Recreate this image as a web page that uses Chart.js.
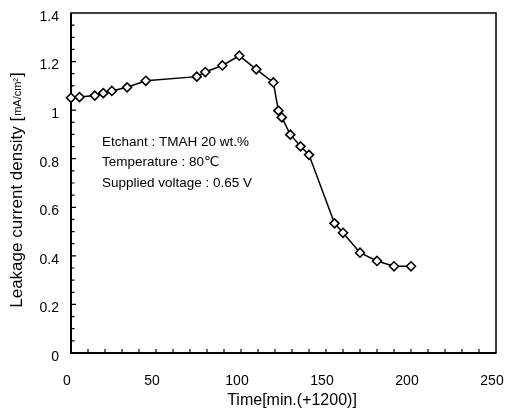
<!DOCTYPE html>
<html>
<head>
<meta charset="utf-8">
<script src="https://cdn.jsdelivr.net/npm/chart.js@4.4.1/dist/chart.umd.min.js"></script>
<style>
  html, body { margin: 0; padding: 0; background: #fff; }
  #wrap { width: 513px; height: 418px; }
</style>
</head>
<body>
<div id="wrap"><canvas id="leakChart"></canvas></div>
<script>
  // values
  const timeMin = [0, 5, 14, 19, 24, 33, 44, 74, 79, 89, 99, 109, 119, 122, 124, 129, 135, 140, 155, 160, 170, 180, 190, 200];
  const leakage = [1.051, 1.054, 1.06, 1.07, 1.079, 1.094, 1.121, 1.138, 1.157, 1.184, 1.224, 1.168, 1.114, 0.998, 0.970, 0.899, 0.851, 0.816, 0.534, 0.495, 0.413, 0.379, 0.357, 0.357];
  const xTicks = [0, 50, 100, 150, 200, 250];
  const yTicks = [0, 0.2, 0.4, 0.6, 0.8, 1, 1.2, 1.4];
  const notes = ["Etchant : TMAH 20 wt.%", "Temperature : 80℃", "Supplied voltage : 0.65 V"];
  const yTitle = "Leakage current density ";
  const yUnit = "mA/cm²";
  const xTitle = "Time[min.(+1200)]";

  const FONT = "'Liberation Sans', Arial, 'DejaVu Sans', sans-serif";

  // box, inner ticks, notes and the axis titles
  const framePlugin = {
    id: "frame",
    beforeDatasetsDraw(chart) {
      const { ctx, chartArea: a, scales: { x, y } } = chart;
      ctx.save();
      ctx.strokeStyle = "#000";
      ctx.lineWidth = 1.5;
      ctx.strokeRect(a.left, a.top, a.right - a.left, a.bottom - a.top);
      ctx.lineWidth = 2;
      ctx.beginPath();
      ctx.moveTo(a.left, a.top); ctx.lineTo(a.left, a.bottom); ctx.lineTo(a.right, a.bottom);
      ctx.stroke();
      ctx.lineWidth = 1.2;
      ctx.beginPath();
      for (let v = 10; v < 250; v += 10) {
        const px = x.getPixelForValue(v);
        ctx.moveTo(px, a.bottom); ctx.lineTo(px, a.bottom - 4);
      }
      for (let i = 1; i < 28; i++) {
        const py = y.getPixelForValue(i * 0.05);
        ctx.moveTo(a.left, py); ctx.lineTo(a.left + (i % 4 === 0 ? 5 : 3.5), py);
      }
      ctx.stroke();
      ctx.restore();
    },
    afterDraw(chart) {
      const { ctx, chartArea: a } = chart;
      ctx.save();
      ctx.fillStyle = "#000";
      ctx.font = "13.5px " + FONT;
      ctx.textBaseline = "middle";
      notes.forEach((t, i) => ctx.fillText(t, a.left + 31, 142 + i * 20.5));

      ctx.font = "16px " + FONT;
      ctx.textAlign = "center";
      ctx.fillText(xTitle, 292, 401);
      ctx.textAlign = "left";

      // y title with small unit in brackets
      const big = "17px " + FONT, small = "11px " + FONT;
      ctx.font = big; const w1 = ctx.measureText(yTitle + "[").width; const wb = ctx.measureText("]").width;
      ctx.font = small; const w2 = ctx.measureText(yUnit).width;
      const total = w1 + w2 + wb + 2;
      ctx.translate(17, 190);
      ctx.rotate(-Math.PI / 2);
      let cx = -total / 2;
      ctx.font = big; ctx.fillText(yTitle + "[", cx, 0); cx += w1;
      ctx.font = small; ctx.fillText(yUnit, cx + 1, 1); cx += w2 + 2;
      ctx.font = big; ctx.fillText("]", cx, 0);
      ctx.restore();
    }
  };

  new Chart(document.getElementById("leakChart"), {
    type: "line",
    data: {
      datasets: [{
        data: timeMin.map((t, i) => ({ x: t, y: leakage[i] })),
        borderColor: "#000", borderWidth: 1.5,
        pointStyle: "rectRot", pointRadius: 4.5, pointBorderWidth: 1.6,
        pointBackgroundColor: "#fff", pointBorderColor: "#000",
        tension: 0, clip: false,
      }],
    },
    options: {
      responsive: true, maintainAspectRatio: false, animation: false,
      layout: { padding: { top: 13, right: 17, left: 0, bottom: 0 } },
      plugins: { legend: { display: false }, tooltip: { enabled: false } },
      scales: {
        x: {
          type: "linear", min: 0, max: 250,
          afterBuildTicks: s => { s.ticks = xTicks.map(v => ({ value: v })); },
          afterFit: s => { s.height = 65; s.paddingLeft = 0; s.paddingRight = 0; },
          grid: { display: false, drawTicks: false }, border: { display: false },
          ticks: { color: "#000", font: { family: FONT, size: 14 }, padding: 20, maxRotation: 0, labelOffset: -4 },
        },
        y: {
          min: 0, max: 1.4,
          afterBuildTicks: s => { s.ticks = yTicks.map(v => ({ value: v })); },
          afterFit: s => { s.width = 71; s.paddingTop = 0; s.paddingBottom = 0; },
          grid: { display: false, drawTicks: false }, border: { display: false },
          ticks: { color: "#000", font: { family: FONT, size: 14 }, padding: 12, labelOffset: 4, callback: v => String(v) },
        },
      },
    },
    plugins: [framePlugin],
  });
</script>
</body>
</html>
